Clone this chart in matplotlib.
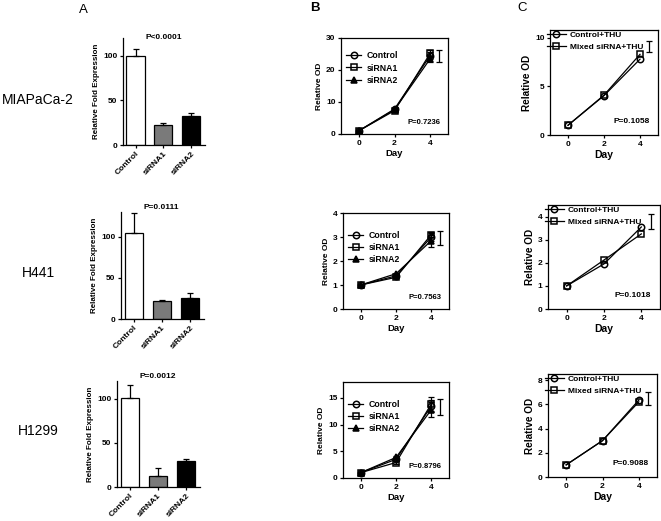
import matplotlib
matplotlib.use("Agg")
import matplotlib.pyplot as plt

plt.rcParams['font.family'] = ['Liberation Sans', 'DejaVu Sans']

# ---------------- data ----------------
cell_lines = ["MIAPaCa-2", "H441", "H1299"]
groups = ["Control", "siRNA1", "siRNA2"]

expr_mia = [100, 22, 33]
expr_mia_err = [8, 3, 3]
expr_h441 = [105, 22, 26]
expr_h441_err = [24, 1.5, 5.5]
expr_h1299 = [101, 13, 30]
expr_h1299_err = [15, 8, 2]
p_expr = ["P<0.0001", "P=0.0111", "P=0.0012"]
expr_ylim = [120, 130, 120]

days = [0, 2, 4]
series_b = ["Control", "siRNA1", "siRNA2"]
b_mia_control = [1, 7.8, 24.5]
b_mia_sirna1 = [1, 7.3, 25.2]
b_mia_sirna2 = [1, 7.6, 23.5]
b_mia_err = [[0, 0.3, 1.2], [0, 0.3, 1.0], [0, 0.3, 1.0]]
b_h441_control = [1, 1.38, 3.0]
b_h441_sirna1 = [1, 1.32, 3.1]
b_h441_sirna2 = [1, 1.47, 2.85]
b_h441_err = [[0, 0.03, 0.15], [0, 0.03, 0.12], [0, 0.03, 0.25]]
b_h1299_control = [1, 3.5, 13.5]
b_h1299_sirna1 = [1, 2.9, 13.9]
b_h1299_sirna2 = [1, 3.85, 12.8]
b_h1299_err = [[0, 0.3, 1.2], [0, 0.3, 1.3], [0, 0.3, 1.4]]
p_b = ["P=0.7236", "P=0.7563", "P=0.8796"]
b_bracket_lo = [22.5, 2.65, 11.85]
b_bracket_hi = [26.4, 3.23, 14.8]
b_ylim = [30, 4, 18]
b_yticks = [[0, 10, 20, 30], [0, 1, 2, 3, 4], [0, 5, 10, 15]]

series_c = ["Control+THU", "Mixed siRNA+THU"]
c_mia_control = [1, 4.05, 7.8]
c_mia_mixed = [1, 4.1, 8.3]
c_h441_control = [1, 1.95, 3.55]
c_h441_mixed = [1, 2.12, 3.25]
c_h1299_control = [1, 3.0, 6.35]
c_h1299_mixed = [1, 3.0, 6.2]
p_c = ["P=0.1058", "P=0.1018", "P=0.9088"]
c_bracket_lo = [8.5, 3.46, 5.93]
c_bracket_hi = [9.7, 4.09, 7.03]
c_ylim = [10.8, 4.5, 8.5]
c_yticks = [[0, 5, 10], [0, 1, 2, 3, 4], [0, 2, 4, 6, 8]]
bracket_x = 4.5

expr_vals = [expr_mia, expr_h441, expr_h1299]
expr_errs = [expr_mia_err, expr_h441_err, expr_h1299_err]
b_vals = [[b_mia_control, b_mia_sirna1, b_mia_sirna2],
          [b_h441_control, b_h441_sirna1, b_h441_sirna2],
          [b_h1299_control, b_h1299_sirna1, b_h1299_sirna2]]
b_errs = [b_mia_err, b_h441_err, b_h1299_err]
c_vals = [[c_mia_control, c_mia_mixed],
          [c_h441_control, c_h441_mixed],
          [c_h1299_control, c_h1299_mixed]]

# ---------------- layout ----------------
W, H = 661, 521
fig = plt.figure(figsize=(W / 100, H / 100), dpi=100)

def add_ax(l, t, r, b):
    return fig.add_axes([l / W, 1 - b / H, (r - l) / W, (b - t) / H])

boxes_a = [(123, 38, 205, 145), (121, 212, 204, 319), (117, 381, 200, 487)]
boxes_b = [(341, 38, 448, 134), (343, 213, 449, 309), (343, 382, 449, 478)]
boxes_c = [(550, 30, 658, 135), (548, 205, 660, 309), (548, 374, 657, 477)]
label_y = [100, 273, 431]
leg_b_y = [0.86, 0.81, 0.81]

FS = 6.0
LW = 0.9
bar_colors = ["white", "#7a7a7a", "black"]
b_markers = [dict(marker='o', mfc='none'), dict(marker='s', mfc='none'), dict(marker='^', mfc='black')]
c_markers = [dict(marker='o', mfc='none'), dict(marker='s', mfc='none')]

def style_ticks(ax, fs=FS):
    ax.tick_params(direction='out', length=2.5, width=LW, labelsize=fs, pad=1.5)
    for lab in ax.get_xticklabels() + ax.get_yticklabels():
        lab.set_fontweight('bold')
    for s in ax.spines.values():
        s.set_linewidth(LW)

for i in range(3):
    # ---- panel A: bars ----
    ax = add_ax(*boxes_a[i])
    xs = list(range(len(groups)))
    ax.bar(xs, expr_vals[i], width=0.65, color=bar_colors, edgecolor='black', linewidth=LW)
    ax.errorbar(xs, expr_vals[i], yerr=[[0] * 3, expr_errs[i]], fmt='none', ecolor='black',
                elinewidth=LW, capsize=2.5, capthick=LW)
    ax.set_xlim(-0.45, 2.5)
    ax.set_ylim(0, expr_ylim[i])
    ax.set_yticks([0, 50, 100])
    ax.set_xticks(xs)
    ax.set_xticklabels(groups, rotation=45, ha='right', rotation_mode='anchor')
    ax.spines['top'].set_visible(False)
    ax.spines['right'].set_visible(False)
    ax.set_ylabel("Relative Fold Expression", fontsize=5.8, fontweight='bold', labelpad=2)
    style_ticks(ax)
    ax.text(0.27, 1.0 if i == 0 else 1.04, p_expr[i], transform=ax.transAxes, fontsize=6,
            fontweight='bold', ha='left', va='center')
    fig.text(38 / W, 1 - label_y[i] / H, cell_lines[i], fontsize=10, ha='center', va='center')

    # ---- panel B ----
    ax = add_ax(*boxes_b[i])
    for j, name in enumerate(series_b):
        ax.errorbar(days, b_vals[i][j], yerr=b_errs[i][j], fmt='none', ecolor='black',
                    capsize=2, capthick=LW, elinewidth=LW)
        ax.plot(days, b_vals[i][j], color='black', lw=LW, ms=4.6, mec='black', mew=1.1,
                label=name, **b_markers[j])
    ax.errorbar([bracket_x], [(b_bracket_lo[i] + b_bracket_hi[i]) / 2],
                yerr=[(b_bracket_hi[i] - b_bracket_lo[i]) / 2], fmt='none', ecolor='black',
                elinewidth=LW, capsize=2.5, capthick=LW)
    ax.set_xlim(-1, 5)
    ax.set_ylim(0, b_ylim[i])
    ax.set_xticks(days)
    ax.set_yticks(b_yticks[i])
    ax.set_xlabel("Day", fontsize=6.8, fontweight='bold', labelpad=1.5)
    ax.set_ylabel("Relative OD", fontsize=6, fontweight='bold', labelpad=2)
    style_ticks(ax)
    ax.text(0.93, 0.12, p_b[i], transform=ax.transAxes, fontsize=5.5, fontweight='bold',
            ha='right', va='center')
    ax.legend(loc='upper left', bbox_to_anchor=(0.05, leg_b_y[i]), frameon=False,
              prop={'weight': 'bold', 'size': 6.3}, handlelength=1.7,
              handletextpad=0.6, labelspacing=0.35, borderpad=0, borderaxespad=0)

    # ---- panel C ----
    ax = add_ax(*boxes_c[i])
    for j, name in enumerate(series_c):
        ax.plot(days, c_vals[i][j], color='black', lw=LW, ms=4.6, mec='black', mew=1.1,
                label=name, **c_markers[j])
    ax.errorbar([bracket_x], [(c_bracket_lo[i] + c_bracket_hi[i]) / 2],
                yerr=[(c_bracket_hi[i] - c_bracket_lo[i]) / 2], fmt='none', ecolor='black',
                elinewidth=LW, capsize=2.5, capthick=LW)
    ax.set_xlim(-1, 5)
    ax.set_ylim(0, c_ylim[i])
    ax.set_xticks(days)
    ax.set_yticks(c_yticks[i])
    ax.set_xlabel("Day", fontsize=7.5, fontweight='bold', labelpad=1.5)
    ax.set_ylabel("Relative OD", fontsize=7.2, fontweight='bold', labelpad=2)
    style_ticks(ax)
    ax.text(0.92, 0.13, p_c[i], transform=ax.transAxes, fontsize=6, fontweight='bold',
            ha='right', va='center')
    ax.legend(loc='upper left', bbox_to_anchor=(-0.03, 0.99), frameon=False,
              prop={'weight': 'bold', 'size': 6.0}, handlelength=2.3,
              handletextpad=0.5, labelspacing=0.5, borderpad=0, borderaxespad=0)

fig.text(83 / W, 1 - 10 / H, "A", fontsize=9.5, ha='center', va='center')
fig.text(315 / W, 1 - 8 / H, "B", fontsize=9.5, fontweight='bold', ha='center', va='center')
fig.text(522 / W, 1 - 8 / H, "C", fontsize=9.5, ha='center', va='center')

fig.savefig("out.png", dpi=100)
